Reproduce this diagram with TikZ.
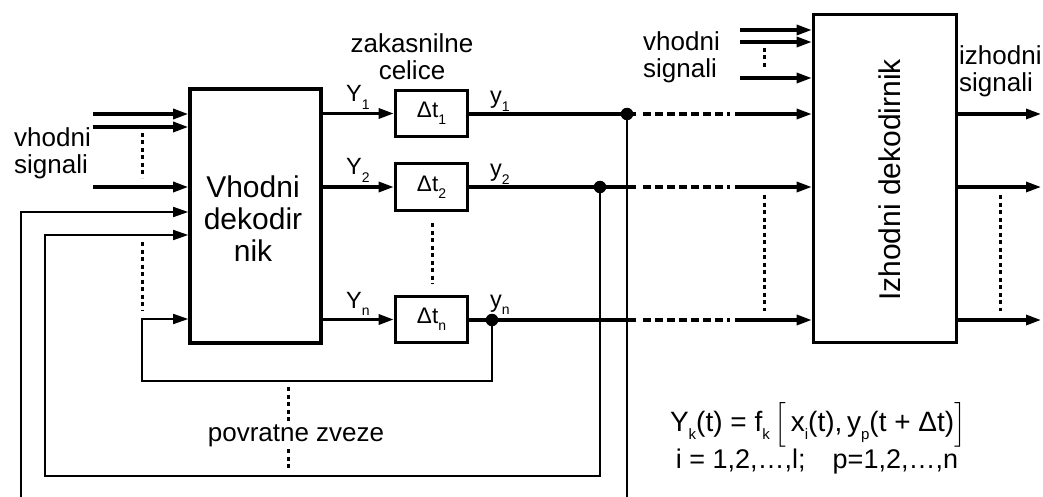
\documentclass[tikz,border=0pt]{standalone}
\usepackage{amsmath}
\usepackage{fontspec}
\setmainfont{Liberation Sans}
\usetikzlibrary{arrows.meta}
\newcommand\sbs[1]{\raisebox{-0.3em}{\fontsize{14}{14}\selectfont #1}}
\newcommand\fsb[1]{\raisebox{-0.3em}{\fontsize{15}{15}\selectfont #1}}
\tikzset{
  sig/.style={line width=3.1pt},
  fb/.style={line width=1.6pt},
  arr/.style={-{Triangle[length=15pt,width=10pt]}},
  blk/.style={draw,line width=3.6pt,inner sep=0pt},
  jdot/.style={circle,fill,inner sep=0pt,minimum size=12.5pt},
  dots/.style={line width=3pt,dash pattern=on 4pt off 3.5pt},
  dsh/.style={line width=3.1pt,dash pattern=on 8pt off 4pt},
  lbl/.style={font=\fontsize{26}{27}\selectfont,inner sep=0pt},
  sublbl/.style={font=\fontsize{23.5}{24}\selectfont,inner sep=0pt},
}
\begin{document}
\begin{tikzpicture}[x=1pt,y=-1pt]
\useasboundingbox (0,0) rectangle (1043,497);
% blocks
\node[blk,minimum width=131pt,minimum height=254pt] (VD) at (255.5,216) {};
\node[align=center,font=\fontsize{30}{32}\selectfont,inner sep=0pt] (VDt) at (253,219) {Vhodni\\dekodir\\nik};
\node[blk,minimum width=72pt,minimum height=46pt,font=\fontsize{22.5}{24}\selectfont] (D1) at (431.5,113.5) {Δt\sbs{1}};
\node[blk,minimum width=72pt,minimum height=47pt,font=\fontsize{22.5}{24}\selectfont] (D2) at (431.5,187) {Δt\sbs{2}};
\node[blk,minimum width=72pt,minimum height=46pt,font=\fontsize{22.5}{24}\selectfont] (Dn) at (431.5,319.5) {Δt\sbs{n}};
\node[blk,minimum width=143pt,minimum height=328pt] (ID) at (885,178.5) {};
\node[rotate=90,anchor=base,font=\fontsize{30}{32}\selectfont,inner sep=0pt] (IDt) at (900,180) {Izhodni dekodirnik};
% junction dots
\node[jdot] (j1) at (627,114) {};
\node[jdot] (j2) at (600,187) {};
\node[jdot] (jn) at (492,320) {};
% left inputs
\coordinate (a1) at (93,114);
\coordinate (a2) at (93,127);
\coordinate (a3) at (93,187);
\draw[sig,arr] (a1) -- (a1 -| VD.west);
\draw[sig,arr] (a2) -- (a2 -| VD.west);
\draw[sig,arr] (a3) -- (a3 -| VD.west);
\draw[dots] (142,133) -- (142,178);
\node[lbl,anchor=west,align=left] (vs1) at (14,153) {vhodni\\signali};
% Y lines to delay cells
\draw[sig,arr] (VD.east |- D1.west) -- (D1.west);
\draw[sig,arr] (VD.east |- D2.west) -- (D2.west);
\draw[sig,arr] (VD.east |- Dn.west) -- (Dn.west);
\draw[dots] (432,223) -- (432,284);
\node[lbl,align=center] (zc) at (412,57) {zakasnilne\\celice};
\node[sublbl,anchor=base west] (Y1) at (346,102) {Y\sbs{1}};
\node[sublbl,anchor=base west] (Y2) at (346,175) {Y\sbs{2}};
\node[sublbl,anchor=base west] (Yn) at (346,308) {Y\sbs{n}};
\node[sublbl,anchor=base west] (y1) at (490,104) {y\sbs{1}};
\node[sublbl,anchor=base west] (y2) at (490,177) {y\sbs{2}};
\node[sublbl,anchor=base west] (yn) at (490,307) {y\sbs{n}};
% outputs of delay cells to right decoder
\coordinate (s1) at (636,114); \coordinate (e1) at (643,114); \coordinate (f1) at (730,114); \coordinate (g1) at (735,114);
\coordinate (s2) at (636,187); \coordinate (e2) at (643,187); \coordinate (f2) at (730,187); \coordinate (g2) at (735,187);
\coordinate (s3) at (636,320); \coordinate (e3) at (643,320); \coordinate (f3) at (730,320); \coordinate (g3) at (735,320);
\draw[sig] (D1.east |- j1) -- (s1);
\draw[sig] (D2.east |- j2) -- (s2);
\draw[sig] (Dn.east |- jn) -- (s3);
\draw[dsh] (e1) -- (f1); \draw[dsh] (e2) -- (f2); \draw[dsh] (e3) -- (f3);
\draw[sig,arr] (g1) -- (g1 -| ID.west);
\draw[sig,arr] (g2) -- (g2 -| ID.west);
\draw[sig,arr] (g3) -- (g3 -| ID.west);
\draw[dots] (764,195) -- (764,311);
% right inputs
\coordinate (b1) at (740,30);
\coordinate (b2) at (740,42);
\coordinate (b3) at (740,78);
\draw[sig,arr] (b1) -- (b1 -| ID.west);
\draw[sig,arr] (b2) -- (b2 -| ID.west);
\draw[sig,arr] (b3) -- (b3 -| ID.west);
\draw[dots] (764,48) -- (764,67);
\node[lbl,anchor=west,align=left] (vs2) at (643,57) {vhodni\\signali};
% right outputs
\coordinate (o1) at (1041,114);
\coordinate (o2) at (1041,187);
\coordinate (o3) at (1041,320);
\draw[sig,arr] (o1 -| ID.east) -- (o1);
\draw[sig,arr] (o2 -| ID.east) -- (o2);
\draw[sig,arr] (o3 -| ID.east) -- (o3);
\draw[dots] (1000,195) -- (1000,311);
\node[lbl,anchor=west,align=left] (is) at (959,71) {izhodni\\signali};
% feedback
\coordinate (p1) at (627,497);
\coordinate (q1) at (21,497);
\coordinate (r1) at (21,212);
\draw[fb] (j1.center) -- (p1);
\draw[fb,arr] (q1) -- (r1) -- (r1 -| VD.west);
\coordinate (p2) at (600,476);
\coordinate (q2) at (45,476);
\coordinate (r2) at (45,235);
\draw[fb,arr] (j2.center) -- (p2) -- (q2) -- (r2) -- (r2 -| VD.west);
\coordinate (p3) at (492,381);
\coordinate (q3) at (142,381);
\coordinate (r3) at (142,319);
\draw[fb,arr] (jn.center) -- (p3) -- (q3) -- (r3) -- (r3 -| VD.west);
\draw[dots] (142,242) -- (142,311);
% povratne zveze
\draw[dots] (288,387) -- (288,423);
\draw[dots] (288,449) -- (288,468);
\node[lbl] (pz) at (296,436) {povratne zveze};
% formula
\node[inner sep=0pt,font=\fontsize{28}{30}\selectfont] (F1) at (818,425) {Y\fsb{k}(t) = f\fsb{k}\,$\Big[$\,x\fsb{i}(t),\,y\fsb{p}(t + Δt)$\Big]$};
\node[inner sep=0pt,font=\fontsize{27}{30}\selectfont] (F2) at (817,462) {i = 1,2,…,l;\quad p=1,2,…,n};
\end{tikzpicture}
\end{document}
